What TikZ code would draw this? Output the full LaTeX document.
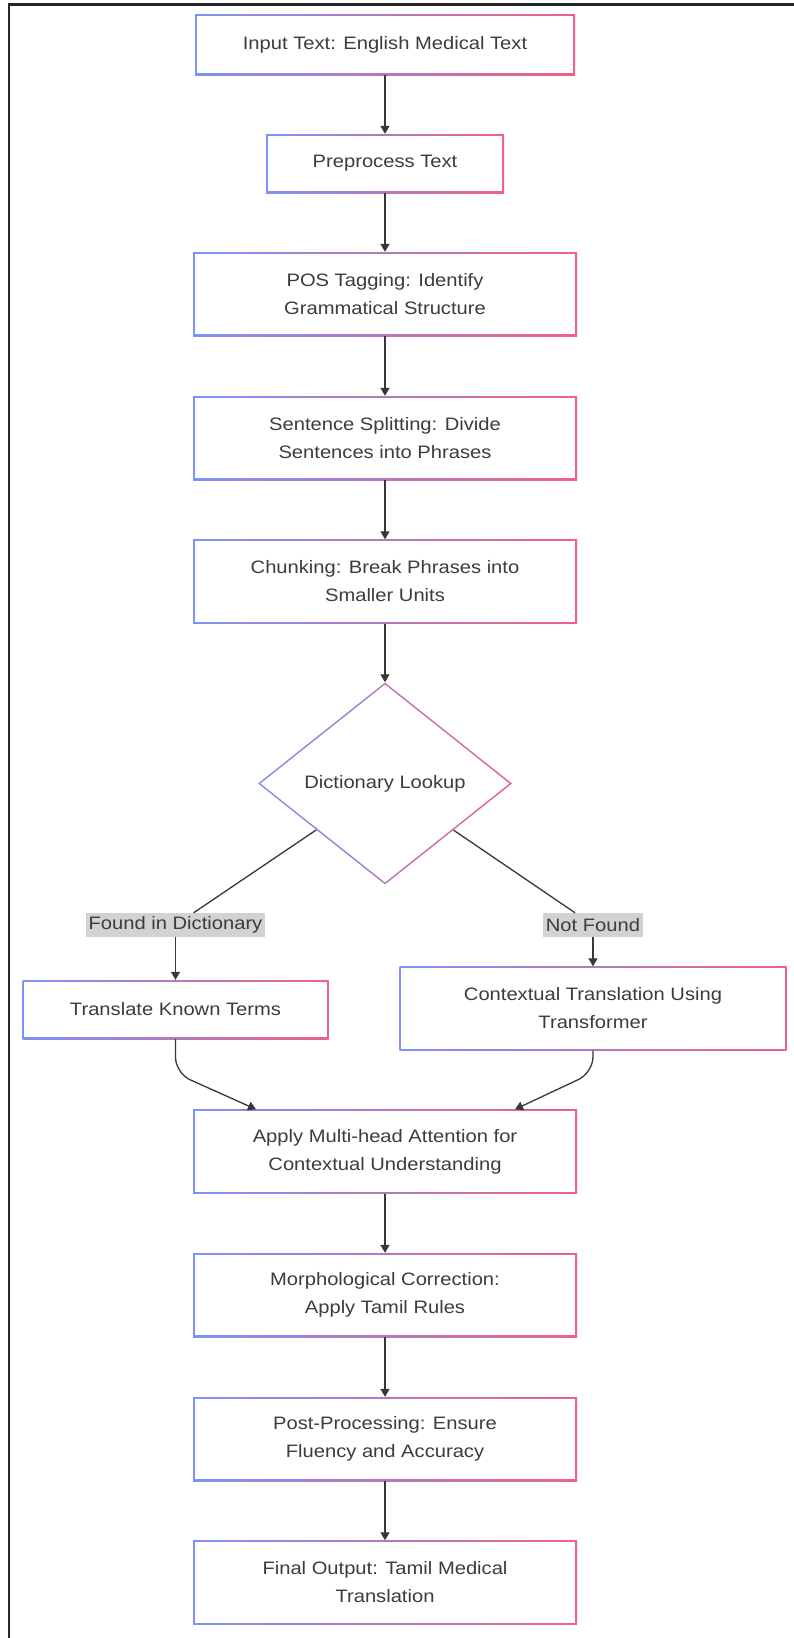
\documentclass[tikz,border=0pt]{standalone}
\usepackage{fontspec}
\setmainfont{Liberation Sans}[FakeStretch=1.12]
\usetikzlibrary{arrows.meta,shapes.geometric}

\definecolor{bluebd}{RGB}{125,145,248}
\definecolor{pinkbd}{RGB}{236,98,132}
\definecolor{txtgray}{RGB}{60,60,60}
\definecolor{linegray}{RGB}{55,55,55}
\definecolor{lblgray}{RGB}{210,210,210}

\begin{document}
\begin{tikzpicture}[x=1pt, y=-1pt]
    \tikzset{
        flowbox/.style={rectangle, fill=white, inner sep=0pt, align=center,
            minimum width=384pt, minimum height=84pt, text=txtgray,
            font=\fontsize{18}{28}\selectfont,
            path picture={
                \shade[left color=bluebd, right color=pinkbd]
                    (path picture bounding box.south west) rectangle (path picture bounding box.north east);
                \fill[white] ([shift={(1.6pt,1.6pt)}]path picture bounding box.south west)
                    rectangle ([shift={(-1.6pt,-1.6pt)}]path picture bounding box.north east);
            }},
        decision/.style={diamond, fill=white, inner sep=0pt, align=center,
            minimum width=254pt, minimum height=202pt, text=txtgray,
            font=\fontsize{18}{28}\selectfont,
            path picture={
                \shade[left color=bluebd, right color=pinkbd]
                    (path picture bounding box.south west) rectangle (path picture bounding box.north east);
                \fill[white] ([yshift=-2.05pt]path picture bounding box.north)
                    -- ([xshift=-2.57pt]path picture bounding box.east)
                    -- ([yshift=2.05pt]path picture bounding box.south)
                    -- ([xshift=2.57pt]path picture bounding box.west) -- cycle;
            }},
        branchlbl/.style={rectangle, fill=lblgray, inner xsep=3pt, inner ysep=0pt,
            minimum height=24pt, text=txtgray, font=\fontsize{18}{28}\selectfont},
        linkstyle/.style={linegray, line width=1.3pt},
        arrowstyle/.style={linkstyle, -{Triangle[width=9pt,length=8pt]}},
        framestyle/.style={black!85, line width=2.6pt}
    }

    \useasboundingbox (0,0) rectangle (794,1638);
    \draw[framestyle] (9,1640) -- (9,4.5) -- (796,4.5);

    % main column
    \node[flowbox, minimum width=380pt, minimum height=61pt] (input) at (385,44.5) {Input Text: English Medical Text};
    \node[flowbox, minimum width=238pt, minimum height=59pt] (prep) at (385,163.5) {Preprocess Text};
    \node[flowbox] (pos) at (385,294) {POS Tagging: Identify\\Grammatical Structure};
    \node[flowbox] (split) at (385,438) {Sentence Splitting: Divide\\Sentences into Phrases};
    \node[flowbox] (chunk) at (385,581.5) {Chunking: Break Phrases into\\Smaller Units};
    \node[decision] (lookup) at (385,783.5) {Dictionary Lookup};

    % branches
    \node[branchlbl] (found) at (175.5,925) {Found in Dictionary};
    \node[branchlbl] (notfound) at (593,925) {Not Found};
    \node[flowbox, minimum width=306pt, minimum height=59pt] (known) at (175.5,1009.5) {Translate Known Terms};
    \node[flowbox, minimum width=387pt] (context) at (593,1008.5) {Contextual Translation Using\\Transformer};

    \node[flowbox] (attn) at (385,1151.5) {Apply Multi-head Attention for\\Contextual Understanding};
    \node[flowbox] (morph) at (385,1295) {Morphological Correction:\\Apply Tamil Rules};
    \node[flowbox] (post) at (385,1439) {Post-Processing: Ensure\\Fluency and Accuracy};
    \node[flowbox] (final) at (385,1582.5) {Final Output: Tamil Medical\\Translation};

    \draw[arrowstyle] (input) -- (prep);
    \draw[arrowstyle] (prep) -- (pos);
    \draw[arrowstyle] (pos) -- (split);
    \draw[arrowstyle] (split) -- (chunk);
    \draw[arrowstyle] (chunk) -- (lookup);

    \draw[linkstyle] (lookup) -- (found);
    \draw[linkstyle] (lookup) -- (notfound);
    \draw[arrowstyle] (found) -- (known);
    \draw[arrowstyle] (notfound) -- (context);

    \draw[arrowstyle, rounded corners=16pt] (known.south) -- ([yshift=-34pt]known.south) -- ([xshift=-129pt]attn.north);
    \draw[arrowstyle, rounded corners=16pt] (context.south) -- ([yshift=-22pt]context.south) -- ([xshift=130pt]attn.north);

    \draw[arrowstyle] (attn) -- (morph);
    \draw[arrowstyle] (morph) -- (post);
    \draw[arrowstyle] (post) -- (final);

\end{tikzpicture}
\end{document}
